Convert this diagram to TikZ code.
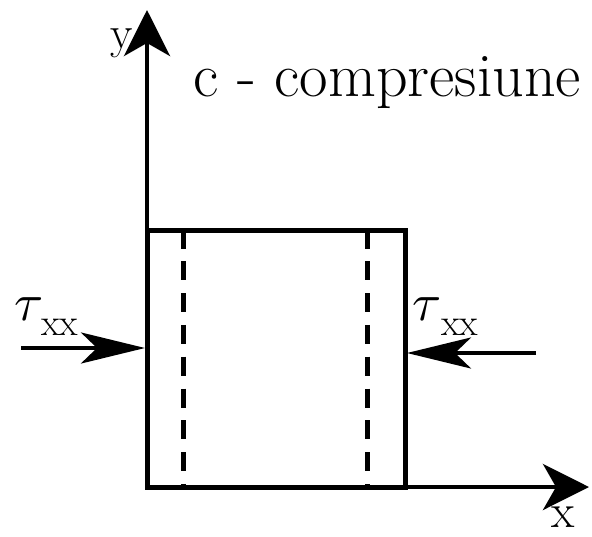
\documentclass[tikz,border=0pt]{standalone}
\usepackage{fontspec}
\usepackage{graphicx}
\usetikzlibrary{arrows.meta}
\tikzset{
  frame/.style={draw, line width=5pt, minimum width=258pt, minimum height=257pt, inner sep=0pt, outer sep=0pt},
  axis/.style={line width=4.5pt, -{Stealth[length=46pt, width=46pt, inset=13pt]}},
  load/.style={line width=4pt, -{Stealth[length=64pt, width=31pt, inset=16pt]}},
  dashline/.style={line width=5pt, dash pattern=on 19pt off 12.8pt},
  lbl/.style={inner sep=0pt, anchor=base west},
}
\begin{document}
\begin{tikzpicture}[x=1pt, y=-1pt]
\useasboundingbox (0,0) rectangle (592,536);
\node[frame] (box) at (276,358.5) {};
\coordinate (O) at (147,487);
\coordinate (ytip) at (147,10);
\coordinate (xtip) at (589,487);
\draw[axis] (O) -- (ytip);
\draw[axis] (O) -- (xtip);
\coordinate (d1a) at (183,229.5);
\coordinate (d1b) at (183,487);
\coordinate (d2a) at (367,229.5);
\coordinate (d2b) at (367,487);
\draw[dashline] (d1a) -- (d1b);
\draw[dashline] (d2a) -- (d2b);
\coordinate (lstart) at (21,348);
\coordinate (ltip) at (145,348);
\coordinate (rstart) at (536,353);
\coordinate (rtip) at (407,353);
\draw[load] (lstart) -- (ltip);
\draw[load] (rstart) -- (rtip);
\node[lbl, font=\fontsize{62}{66}\selectfont] (title) at (193,96) {c - compresiune};
\node[lbl, font=\fontsize{46}{48}\selectfont] (ylab) at (110,48) {y};
\node[lbl, font=\fontsize{48}{50}\selectfont] (xlab) at (551,527) {x};
\node[lbl] (tl) at (14,320) {\scalebox{5.3}{$\tau$}};
\node[lbl, font=\fontsize{38}{40}\selectfont] (tlsub) at (41,335) {xx};
\node[lbl] (tr) at (412,320) {\scalebox{5.3}{$\tau$}};
\node[lbl, font=\fontsize{38}{40}\selectfont] (trsub) at (441,335) {xx};
\end{tikzpicture}
\end{document}
